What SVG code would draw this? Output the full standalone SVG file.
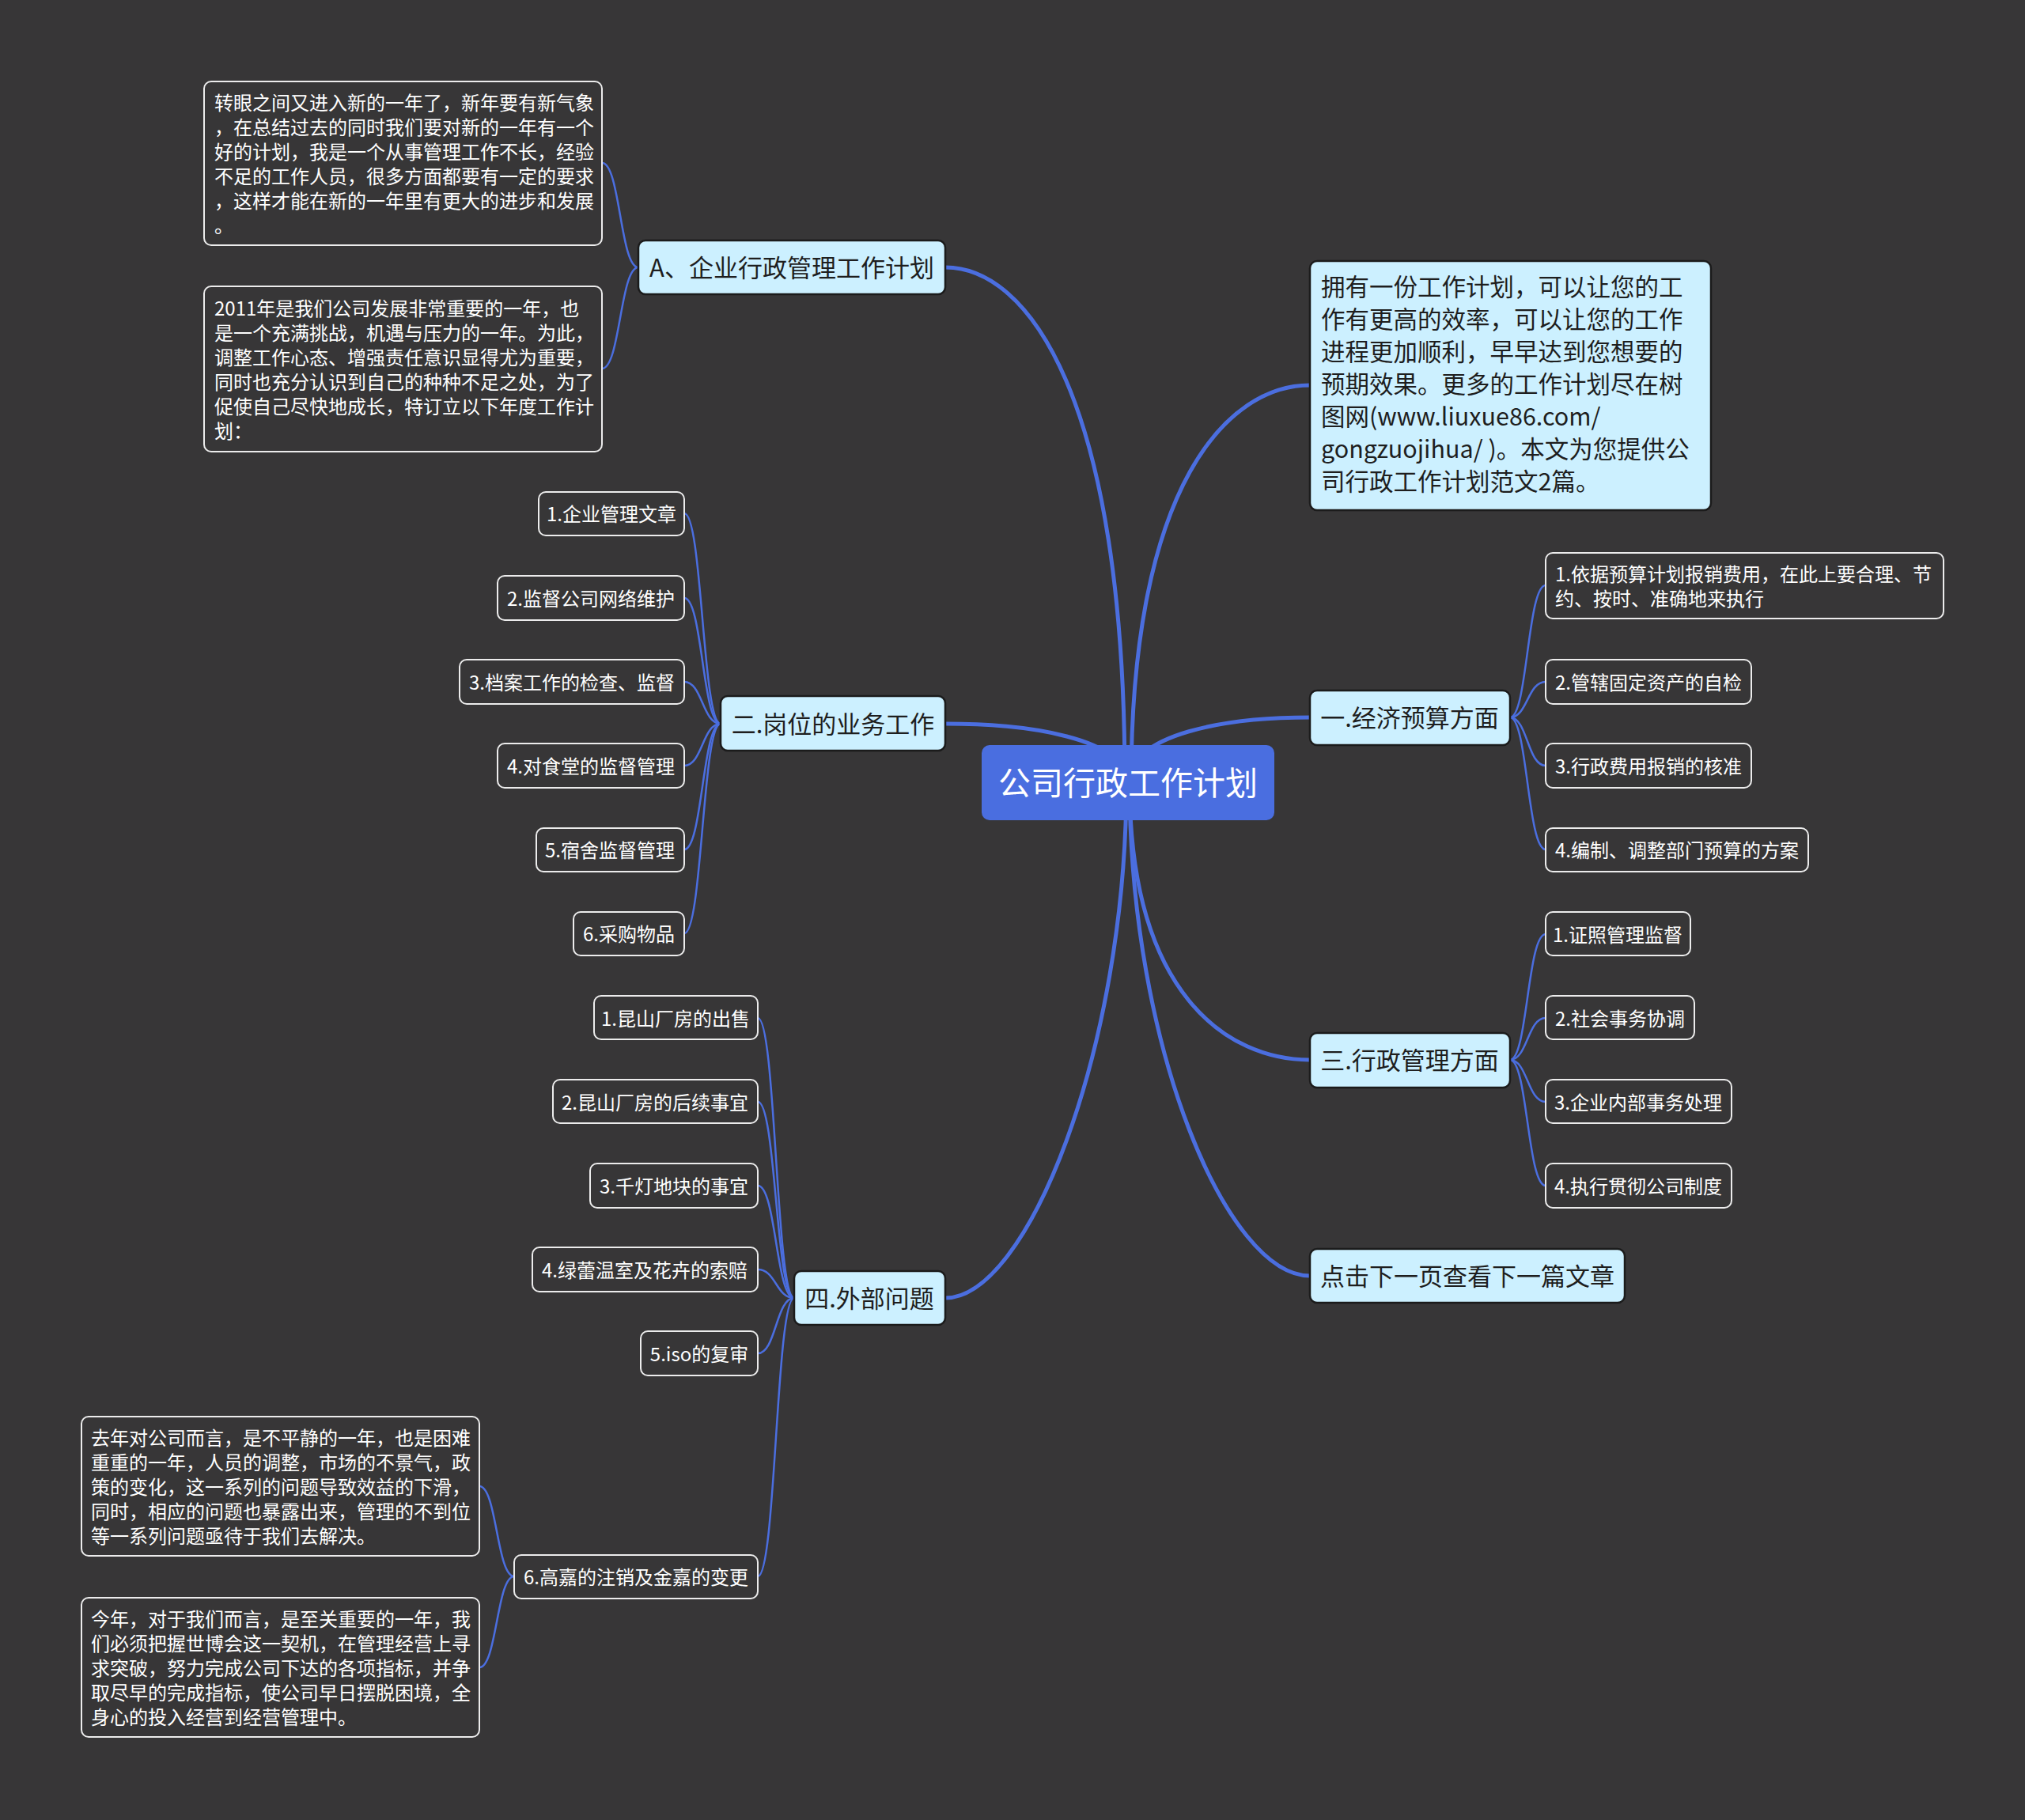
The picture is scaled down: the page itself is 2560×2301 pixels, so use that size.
<svg xmlns="http://www.w3.org/2000/svg" width="2560" height="2301" viewBox="0 0 2560 2301">
<style>
text{font-family:"Noto Sans CJK SC","Noto Sans",sans-serif;dominant-baseline:central}
.bg{fill:#373637}
.root rect{fill:#4A6EE0}
.root text{fill:#ffffff;font-size:41px;text-anchor:middle}
.l1 rect{fill:#CCF0FF;stroke:#1b1b1b;stroke-width:2.5}
.l1 text{fill:#1e1e1e;font-size:31px;text-anchor:middle}
.intro text{text-anchor:start;font-size:30.5px}
.leaf rect{fill:#373637;stroke:#ececec;stroke-width:2}
.leaf text{fill:#ffffff;font-size:24px;text-anchor:middle}
.note text{text-anchor:start}
.main{fill:none;stroke:#4B6EDF;stroke-width:5;stroke-linecap:round}
.sub{fill:none;stroke:#4B6EDF;stroke-width:2.5;stroke-linecap:round}
</style>
<rect class="bg" x="0" y="0" width="2560" height="2301"/>
<g id="connectors">
<path class="main" d="M1195 338 C1299 338 1422 501 1422 989"/>
<path class="main" d="M1195 915 C1299 915 1424 933 1424 989"/>
<path class="main" d="M1195 1641 C1299 1641 1424 1326 1424 989"/>
<path class="main" d="M1656 487 C1552 487 1430 613 1430 989"/>
<path class="main" d="M1656 907 C1552 907 1428 927 1428 989"/>
<path class="main" d="M1656 1340 C1552 1340 1428 1257 1428 989"/>
<path class="main" d="M1656 1613 C1552 1613 1428 1325 1428 989"/>
<path class="sub" d="M807 338 C784 338 784 206 761 206"/>
<path class="sub" d="M807 338 C784 338 784 466 761 466"/>
<path class="sub" d="M1909 907 C1931 907 1931 740 1954 740"/>
<path class="sub" d="M1909 907 C1931 907 1931 862 1954 862"/>
<path class="sub" d="M1909 907 C1931 907 1931 968 1954 968"/>
<path class="sub" d="M1909 907 C1931 907 1931 1074 1954 1074"/>
<path class="sub" d="M1909 1340 C1931 1340 1931 1181 1954 1181"/>
<path class="sub" d="M1909 1340 C1931 1340 1931 1287 1954 1287"/>
<path class="sub" d="M1909 1340 C1931 1340 1931 1393 1954 1393"/>
<path class="sub" d="M1909 1340 C1931 1340 1931 1499 1954 1499"/>
<path class="sub" d="M911 915 C888 915 888 649 865 649"/>
<path class="sub" d="M911 915 C888 915 888 756 865 756"/>
<path class="sub" d="M911 915 C888 915 888 862 865 862"/>
<path class="sub" d="M911 915 C888 915 888 968 865 968"/>
<path class="sub" d="M911 915 C888 915 888 1074 865 1074"/>
<path class="sub" d="M911 915 C888 915 888 1180 865 1180"/>
<path class="sub" d="M1004 1641 C981 1641 981 1287 958 1287"/>
<path class="sub" d="M1004 1641 C981 1641 981 1393 958 1393"/>
<path class="sub" d="M1004 1641 C981 1641 981 1499 958 1499"/>
<path class="sub" d="M1004 1641 C981 1641 981 1605 958 1605"/>
<path class="sub" d="M1004 1641 C981 1641 981 1711 958 1711"/>
<path class="sub" d="M1004 1641 C981 1641 981 1993 958 1993"/>
<path class="sub" d="M650 1993 C628 1993 628 1879 606 1879"/>
<path class="sub" d="M650 1993 C628 1993 628 2108 606 2108"/>
</g>

<g id="root" class="root">
<rect x="1241" y="942" width="370" height="95" rx="10"/>
<text x="1426" y="987">公司行政工作计划</text>
</g>

<g id="nodeA" class="l1">
<rect x="807" y="304" width="388" height="68" rx="9"/>
<text x="1001" y="336">A、企业行政管理工作计划</text>
</g>
<g id="note1" class="leaf note">
<rect x="258" y="103" width="503" height="207" rx="9"/>
<text x="271" y="128">转眼之间又进入新的一年了，新年要有新气象</text>
<text x="271" y="159">，在总结过去的同时我们要对新的一年有一个</text>
<text x="271" y="190">好的计划，我是一个从事管理工作不长，经验</text>
<text x="271" y="221">不足的工作人员，很多方面都要有一定的要求</text>
<text x="271" y="252">，这样才能在新的一年里有更大的进步和发展</text>
<text x="271" y="283">。</text>
</g>
<g id="note2" class="leaf note">
<rect x="258" y="362" width="503" height="209" rx="9"/>
<text x="271" y="388">2011年是我们公司发展非常重要的一年，也</text>
<text x="271" y="419">是一个充满挑战，机遇与压力的一年。为此，</text>
<text x="271" y="450">调整工作心态、增强责任意识显得尤为重要，</text>
<text x="271" y="481">同时也充分认识到自己的种种不足之处，为了</text>
<text x="271" y="512">促使自己尽快地成长，特订立以下年度工作计</text>
<text x="271" y="543">划：</text>
</g>

<g id="intro" class="l1 intro">
<rect x="1656" y="330" width="507" height="315" rx="9"/>
<text x="1670" y="361">拥有一份工作计划，可以让您的工</text>
<text x="1670" y="402">作有更高的效率，可以让您的工作</text>
<text x="1670" y="443">进程更加顺利，早早达到您想要的</text>
<text x="1670" y="484">预期效果。更多的工作计划尽在树</text>
<text x="1670" y="525">图网(www.liuxue86.com/</text>
<text x="1670" y="566">gongzuojihua/ )。本文为您提供公</text>
<text x="1670" y="607">司行政工作计划范文2篇。</text>
</g>

<g id="node1" class="l1">
<rect x="1656" y="873" width="253" height="69" rx="9"/>
<text x="1782" y="905">一.经济预算方面</text>
</g>
<g id="n1a" class="leaf note">
<rect x="1954" y="699" width="503" height="83" rx="9"/>
<text x="1966" y="724">1.依据预算计划报销费用，在此上要合理、节</text>
<text x="1966" y="755">约、按时、准确地来执行</text>
</g>
<g id="n1b" class="leaf"><rect x="1954" y="834" width="260" height="56" rx="9"/><text x="2084" y="861">2.管辖固定资产的自检</text></g>
<g id="n1c" class="leaf"><rect x="1954" y="940" width="260" height="56" rx="9"/><text x="2084" y="967">3.行政费用报销的核准</text></g>
<g id="n1d" class="leaf"><rect x="1954" y="1047" width="332" height="55" rx="9"/><text x="2120" y="1073">4.编制、调整部门预算的方案</text></g>

<g id="node3" class="l1">
<rect x="1656" y="1306" width="253" height="69" rx="9"/>
<text x="1782" y="1338">三.行政管理方面</text>
</g>
<g id="n3a" class="leaf"><rect x="1954" y="1153" width="183" height="55" rx="9"/><text x="2045" y="1180">1.证照管理监督</text></g>
<g id="n3b" class="leaf"><rect x="1954" y="1259" width="188" height="55" rx="9"/><text x="2048" y="1286">2.社会事务协调</text></g>
<g id="n3c" class="leaf"><rect x="1954" y="1365" width="235" height="55" rx="9"/><text x="2071" y="1392">3.企业内部事务处理</text></g>
<g id="n3d" class="leaf"><rect x="1954" y="1471" width="235" height="56" rx="9"/><text x="2071" y="1498">4.执行贯彻公司制度</text></g>

<g id="nodeNext" class="l1">
<rect x="1656" y="1579" width="398" height="68" rx="9"/>
<text x="1855" y="1611">点击下一页查看下一篇文章</text>
</g>

<g id="node2" class="l1">
<rect x="911" y="880" width="284" height="69" rx="9"/>
<text x="1053" y="913">二.岗位的业务工作</text>
</g>
<g id="n2a" class="leaf"><rect x="681" y="622" width="184" height="55" rx="9"/><text x="773" y="648">1.企业管理文章</text></g>
<g id="n2b" class="leaf"><rect x="629" y="728" width="236" height="56" rx="9"/><text x="747" y="755">2.监督公司网络维护</text></g>
<g id="n2c" class="leaf"><rect x="581" y="834" width="284" height="56" rx="9"/><text x="723" y="861">3.档案工作的检查、监督</text></g>
<g id="n2d" class="leaf"><rect x="629" y="940" width="236" height="56" rx="9"/><text x="747" y="967">4.对食堂的监督管理</text></g>
<g id="n2e" class="leaf"><rect x="678" y="1047" width="187" height="55" rx="9"/><text x="771" y="1073">5.宿舍监督管理</text></g>
<g id="n2f" class="leaf"><rect x="725" y="1153" width="140" height="55" rx="9"/><text x="795" y="1179">6.采购物品</text></g>

<g id="node4" class="l1">
<rect x="1004" y="1607" width="191" height="68" rx="9"/>
<text x="1099" y="1639">四.外部问题</text>
</g>
<g id="n4a" class="leaf"><rect x="751" y="1259" width="207" height="55" rx="9"/><text x="854" y="1286">1.昆山厂房的出售</text></g>
<g id="n4b" class="leaf"><rect x="699" y="1365" width="259" height="55" rx="9"/><text x="828" y="1392">2.昆山厂房的后续事宜</text></g>
<g id="n4c" class="leaf"><rect x="746" y="1471" width="212" height="56" rx="9"/><text x="852" y="1498">3.千灯地块的事宜</text></g>
<g id="n4d" class="leaf"><rect x="673" y="1577" width="285" height="56" rx="9"/><text x="815" y="1604">4.绿蕾温室及花卉的索赔</text></g>
<g id="n4e" class="leaf"><rect x="810" y="1683" width="148" height="56" rx="9"/><text x="884" y="1710">5.iso的复审</text></g>
<g id="n4f" class="leaf"><rect x="650" y="1966" width="308" height="55" rx="9"/><text x="804" y="1992">6.高嘉的注销及金嘉的变更</text></g>
<g id="note3" class="leaf note">
<rect x="103" y="1791" width="503" height="176" rx="9"/>
<text x="115" y="1816">去年对公司而言，是不平静的一年，也是困难</text>
<text x="115" y="1847">重重的一年，人员的调整，市场的不景气，政</text>
<text x="115" y="1878">策的变化，这一系列的问题导致效益的下滑，</text>
<text x="115" y="1909">同时，相应的问题也暴露出来，管理的不到位</text>
<text x="115" y="1940">等一系列问题亟待于我们去解决。</text>
</g>
<g id="note4" class="leaf note">
<rect x="103" y="2020" width="503" height="176" rx="9"/>
<text x="115" y="2045">今年，对于我们而言，是至关重要的一年，我</text>
<text x="115" y="2076">们必须把握世博会这一契机，在管理经营上寻</text>
<text x="115" y="2107">求突破，努力完成公司下达的各项指标，并争</text>
<text x="115" y="2138">取尽早的完成指标，使公司早日摆脱困境，全</text>
<text x="115" y="2169">身心的投入经营到经营管理中。</text>
</g>
</svg>
